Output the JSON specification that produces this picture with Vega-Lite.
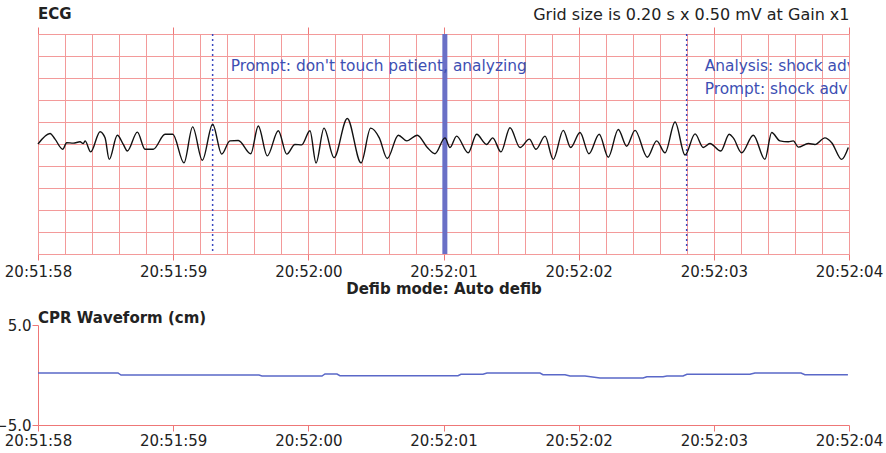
{
  "$schema": "https://vega.github.io/schema/vega-lite/v6.json",
  "background": "white",
  "padding": {"left": -6, "right": 3, "top": 6, "bottom": 2},
  "spacing": 15,
  "config": {
    "font": "DejaVu Sans",
    "view": {"stroke": null},
    "axis": {"labelFont": "DejaVu Sans", "labelFontSize": 15, "labelColor": "#222222", "titleFont": "DejaVu Sans", "titleColor": "#222222"},
    "title": {"font": "DejaVu Sans", "fontSize": 15, "fontWeight": "bold", "color": "#222222", "anchor": "start", "frame": "group"}
  },
  "datasets": {
    "ecg": [
      {"s": 0.000, "mv": 0.0},
      {"s": 0.089, "mv": 0.24},
      {"s": 0.126, "mv": 0.11},
      {"s": 0.183, "mv": -0.12},
      {"s": 0.212, "mv": 0.03},
      {"s": 0.261, "mv": 0.02},
      {"s": 0.311, "mv": 0.05},
      {"s": 0.335, "mv": 0.01},
      {"s": 0.348, "mv": 0.07},
      {"s": 0.390, "mv": -0.18},
      {"s": 0.459, "mv": 0.28},
      {"s": 0.496, "mv": 0.14},
      {"s": 0.527, "mv": -0.35},
      {"s": 0.587, "mv": 0.20},
      {"s": 0.631, "mv": -0.01},
      {"s": 0.661, "mv": -0.16},
      {"s": 0.735, "mv": 0.27},
      {"s": 0.792, "mv": -0.12},
      {"s": 0.853, "mv": -0.12},
      {"s": 0.940, "mv": 0.22},
      {"s": 0.997, "mv": 0.22},
      {"s": 1.080, "mv": -0.43},
      {"s": 1.144, "mv": 0.39},
      {"s": 1.216, "mv": -0.37},
      {"s": 1.292, "mv": 0.45},
      {"s": 1.359, "mv": -0.23},
      {"s": 1.420, "mv": 0.07},
      {"s": 1.482, "mv": 0.08},
      {"s": 1.574, "mv": -0.22},
      {"s": 1.630, "mv": 0.41},
      {"s": 1.696, "mv": -0.27},
      {"s": 1.778, "mv": 0.30},
      {"s": 1.840, "mv": -0.23},
      {"s": 1.901, "mv": -0.01},
      {"s": 1.951, "mv": -0.02},
      {"s": 2.012, "mv": 0.30},
      {"s": 2.057, "mv": -0.43},
      {"s": 2.116, "mv": 0.36},
      {"s": 2.190, "mv": -0.31},
      {"s": 2.288, "mv": 0.58},
      {"s": 2.390, "mv": -0.43},
      {"s": 2.461, "mv": 0.36},
      {"s": 2.525, "mv": 0.14},
      {"s": 2.584, "mv": -0.33},
      {"s": 2.666, "mv": 0.20},
      {"s": 2.728, "mv": 0.07},
      {"s": 2.806, "mv": 0.20},
      {"s": 2.880, "mv": -0.08},
      {"s": 2.937, "mv": -0.22},
      {"s": 3.011, "mv": 0.14},
      {"s": 3.048, "mv": -0.08},
      {"s": 3.097, "mv": 0.18},
      {"s": 3.183, "mv": -0.20},
      {"s": 3.245, "mv": 0.22},
      {"s": 3.319, "mv": -0.01},
      {"s": 3.364, "mv": 0.14},
      {"s": 3.425, "mv": -0.18},
      {"s": 3.492, "mv": 0.37},
      {"s": 3.566, "mv": -0.08},
      {"s": 3.635, "mv": 0.11},
      {"s": 3.684, "mv": -0.12},
      {"s": 3.751, "mv": 0.18},
      {"s": 3.812, "mv": -0.35},
      {"s": 3.886, "mv": 0.31},
      {"s": 3.941, "mv": -0.08},
      {"s": 4.010, "mv": 0.26},
      {"s": 4.076, "mv": -0.22},
      {"s": 4.152, "mv": 0.22},
      {"s": 4.219, "mv": -0.30},
      {"s": 4.293, "mv": 0.33},
      {"s": 4.355, "mv": -0.05},
      {"s": 4.417, "mv": 0.31},
      {"s": 4.508, "mv": -0.30},
      {"s": 4.577, "mv": 0.07},
      {"s": 4.639, "mv": -0.20},
      {"s": 4.713, "mv": 0.50},
      {"s": 4.787, "mv": -0.25},
      {"s": 4.861, "mv": 0.23},
      {"s": 4.922, "mv": -0.08},
      {"s": 4.971, "mv": 0.01},
      {"s": 5.051, "mv": -0.16},
      {"s": 5.114, "mv": 0.22},
      {"s": 5.144, "mv": 0.14},
      {"s": 5.206, "mv": -0.20},
      {"s": 5.292, "mv": 0.20},
      {"s": 5.378, "mv": -0.35},
      {"s": 5.428, "mv": 0.26},
      {"s": 5.489, "mv": 0.07},
      {"s": 5.551, "mv": 0.05},
      {"s": 5.588, "mv": 0.07},
      {"s": 5.625, "mv": -0.07},
      {"s": 5.699, "mv": 0.01},
      {"s": 5.748, "mv": -0.01},
      {"s": 5.822, "mv": 0.14},
      {"s": 5.872, "mv": 0.03},
      {"s": 5.946, "mv": -0.35},
      {"s": 5.995, "mv": -0.08}
    ],
    "cpr": [
      {"s": 0.000, "cm": 0.2},
      {"s": 0.592, "cm": 0.2},
      {"s": 0.614, "cm": 0.0},
      {"s": 1.635, "cm": 0.0},
      {"s": 1.657, "cm": -0.1},
      {"s": 2.101, "cm": -0.1},
      {"s": 2.123, "cm": 0.1},
      {"s": 2.212, "cm": 0.1},
      {"s": 2.234, "cm": -0.07},
      {"s": 3.107, "cm": -0.07},
      {"s": 3.129, "cm": 0.07},
      {"s": 3.292, "cm": 0.07},
      {"s": 3.322, "cm": 0.2},
      {"s": 3.714, "cm": 0.2},
      {"s": 3.736, "cm": 0.03},
      {"s": 3.899, "cm": 0.03},
      {"s": 3.936, "cm": -0.1},
      {"s": 4.047, "cm": -0.1},
      {"s": 4.158, "cm": -0.3},
      {"s": 4.476, "cm": -0.3},
      {"s": 4.505, "cm": -0.17},
      {"s": 4.624, "cm": -0.17},
      {"s": 4.653, "cm": -0.1},
      {"s": 4.772, "cm": -0.1},
      {"s": 4.801, "cm": 0.07},
      {"s": 5.267, "cm": 0.07},
      {"s": 5.304, "cm": 0.2},
      {"s": 5.645, "cm": 0.2},
      {"s": 5.674, "cm": 0.03},
      {"s": 5.992, "cm": 0.03}
    ],
    "events": [
      {"s": 1.292, "line1": "Prompt: don't touch patient, analyzing", "line2": ""},
      {"s": 4.799, "line1": "Analysis: shock advised", "line2": "Prompt: shock advised"}
    ],
    "cursor": [
      {"s": 3.010}
    ]
  },
  "vconcat": [
    {
      "width": 811,
      "height": 220,
      "title": {"text": "ECG", "offset": -15},
      "resolve": {"axis": {"x": "independent"}},
      "layer": [
        {
          "data": {"name": "cursor"},
          "mark": {"type": "rule", "color": "#6a70c6", "strokeWidth": 5},
          "encoding": {
            "x": {
              "field": "s", "type": "quantitative",
              "scale": {"domain": [0, 6], "nice": false, "zero": false},
              "axis": {
                "orient": "top", "title": "Grid size is 0.20 s x 0.50 mV at Gain x1", "titleAnchor": "end", "titleFontWeight": "normal", "titleFontSize": 16, "titlePadding": 4,
                "labels": false, "domain": false, "grid": false, "tickColor": "#ee7777", "tickSize": 7, "tickCount": 100,
                "values": [0, 1, 2, 3, 4, 5, 6]
              }
            }
          }
        },
        {
          "data": {"name": "events"},
          "mark": {"type": "rule", "color": "#3a48bf", "strokeWidth": 1.5, "strokeDash": [2, 3]},
          "encoding": {
            "x": {"field": "s", "type": "quantitative", "axis": null}
          }
        },
        {
          "data": {"name": "ecg"},
          "mark": {"type": "line", "color": "#111111", "strokeWidth": 1.4, "interpolate": "monotone"},
          "encoding": {
            "x": {
              "field": "s", "type": "quantitative",
              "axis": {
                "orient": "bottom", "title": "Defib mode: Auto defib", "titleFontWeight": "bold", "titleFontSize": 15, "titlePadding": 2,
                "grid": true, "gridColor": "#f39a9a", "gridWidth": 1, "gridOpacity": 1,
                "domain": false, "tickColor": "#ee7777", "tickSize": 6, "tickCount": 100,
                "tickOpacity": {"condition": {"test": "datum.value === round(datum.value)", "value": 1}, "value": 0},
                "labelExpr": "datum.value === round(datum.value) ? timeFormat(datetime(2000, 0, 1, 20, 51, 58 + datum.value), '%H:%M:%S') : ''",
                "labelOverlap": false, "labelFlush": false, "labelPadding": 4,
                "values": [0, 0.2, 0.4, 0.6, 0.8, 1, 1.2, 1.4, 1.6, 1.8, 2, 2.2, 2.4, 2.6, 2.8, 3, 3.2, 3.4, 3.6, 3.8, 4, 4.2, 4.4, 4.6, 4.8, 5, 5.2, 5.4, 5.6, 5.8, 6]
              }
            },
            "y": {
              "field": "mv", "type": "quantitative",
              "scale": {"domain": [-2.5, 2.5], "nice": false, "zero": false},
              "axis": {"title": null, "labels": false, "ticks": false, "domain": false, "grid": true, "gridColor": "#f39a9a", "gridOpacity": 1, "tickCount": 50, "values": [-2.5, -2, -1.5, -1, -0.5, 0, 0.5, 1, 1.5, 2, 2.5]}
            }
          }
        },
        {
          "data": {"name": "events"},
          "mark": {"type": "text", "color": "#3d4fb3", "fontSize": 15.4, "align": "left", "baseline": "middle", "dx": 18, "clip": true},
          "encoding": {
            "x": {"field": "s", "type": "quantitative", "axis": null},
            "y": {"datum": 1.77, "type": "quantitative"},
            "text": {"field": "line1"}
          }
        },
        {
          "data": {"name": "events"},
          "mark": {"type": "text", "color": "#3d4fb3", "fontSize": 15.4, "align": "left", "baseline": "middle", "dx": 18, "clip": true},
          "encoding": {
            "x": {"field": "s", "type": "quantitative", "axis": null},
            "y": {"datum": 1.25, "type": "quantitative"},
            "text": {"field": "line2"}
          }
        }
      ]
    },
    {
      "width": 811,
      "height": 100,
      "title": {"text": "CPR Waveform (cm)", "offset": -8},
      "data": {"name": "cpr"},
      "mark": {"type": "line", "color": "#5a68c8", "strokeWidth": 1.5},
      "encoding": {
        "x": {
          "field": "s", "type": "quantitative",
          "scale": {"domain": [0, 6], "nice": false, "zero": false},
          "axis": {
            "title": null, "grid": false, "domainColor": "#ee7777", "tickColor": "#ee7777", "tickSize": 6, "labelPadding": 2, "labelFlush": false, "labelOverlap": false, "tickCount": 100,
            "labelExpr": "timeFormat(datetime(2000, 0, 1, 20, 51, 58 + datum.value), '%H:%M:%S')",
            "values": [0, 1, 2, 3, 4, 5, 6]
          }
        },
        "y": {
          "field": "cm", "type": "quantitative",
          "scale": {"domain": [-5, 5], "nice": false, "zero": false},
          "axis": {"title": null, "values": [-5, 5], "format": ".1f", "grid": false, "domainColor": "#ee7777", "tickColor": "#ee7777", "tickSize": 6, "labelPadding": 1}
        }
      }
    }
  ]
}
